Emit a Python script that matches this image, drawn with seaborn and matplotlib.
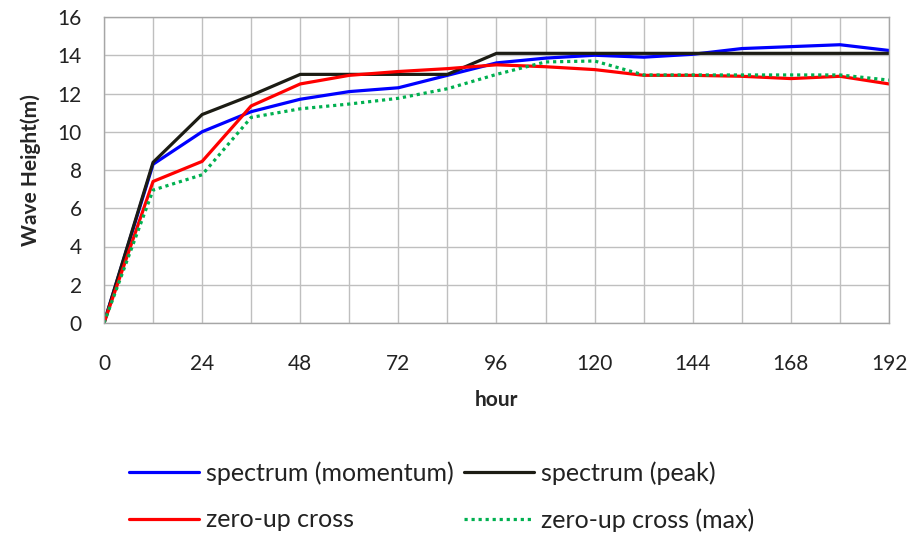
import matplotlib
matplotlib.use("Agg")
import matplotlib.pyplot as plt
import seaborn as sns
import pandas as pd

hours = [0, 12, 24, 36, 48, 60, 72, 84, 96, 108, 120, 132, 144, 156, 168, 180, 192]
momentum = [0.0, 8.3, 10.0, 11.05, 11.7, 12.1, 12.3, 12.95, 13.6, 13.85, 14.0, 13.9, 14.05, 14.35, 14.45, 14.55, 14.25]
peak = [0.0, 8.4, 10.9, 11.9, 13.0, 13.0, 13.0, 13.0, 14.1, 14.1, 14.1, 14.1, 14.1, 14.1, 14.1, 14.1, 14.1]
zero_up = [0.0, 7.4, 8.45, 11.35, 12.5, 12.95, 13.15, 13.3, 13.5, 13.4, 13.25, 12.95, 12.95, 12.9, 12.78, 12.9, 12.5]
zero_up_max = [0.0, 6.95, 7.75, 10.75, 11.2, 11.45, 11.75, 12.25, 13.0, 13.65, 13.7, 12.97, 12.97, 12.97, 12.97, 12.97, 12.7]

series_names = ["spectrum (momentum)", "spectrum (peak)", "zero-up cross", "zero-up cross (max)"]
series_colors = ["#0000FF", "#1C1C14", "#FF0000", "#00B050"]
x_ticks = [0, 24, 48, 72, 96, 120, 144, 168, 192]
y_ticks = [0, 2, 4, 6, 8, 10, 12, 14, 16]

sns.set_style("white")
plt.rcParams["font.family"] = ["Lato", "DejaVu Sans"]

fig = plt.figure(figsize=(9.24, 5.33), dpi=100)
ax = fig.add_axes([104 / 924, 1 - 323 / 533, (889 - 104) / 924, (323 - 17) / 533])

all_series = [momentum, peak, zero_up, zero_up_max]
for name, vals, col in zip(series_names, all_series, series_colors):
    df = pd.DataFrame({"hour": hours, "h": vals})
    ls = (0, (1, 1.2)) if name == "zero-up cross (max)" else "-"
    sns.lineplot(data=df, x="hour", y="h", ax=ax, color=col, linewidth=2.3,
                 linestyle=ls, label=name, legend=False)

ax.set_xlim(0, 192)
ax.set_ylim(0, 16)
ax.set_xticks(x_ticks)
ax.set_yticks(y_ticks)
ax.set_xticks(list(range(0, 193, 12)), minor=True)
ax.grid(True, which="both", color="#BFBFBF", linewidth=1.0)
ax.set_axisbelow(True)
for s in ax.spines.values():
    s.set_color("#A6A6A6")
    s.set_linewidth(1.0)
ax.tick_params(axis="both", which="both", length=0, labelsize=15, colors="#222222")
ax.tick_params(axis="x", pad=22)
ax.tick_params(axis="y", pad=16)
ax.set_xlabel("hour", fontsize=15, fontweight="bold", labelpad=12)
ax.set_ylabel("Wave Height(m)", fontsize=15, fontweight="bold", labelpad=12)

h, l = ax.get_legend_handles_labels()
order = [0, 2, 1, 3]
fig.legend([h[i] for i in order], [l[i] for i in order], loc="upper left",
           bbox_to_anchor=(129 / 924, 1 - 461 / 533), ncol=2,
           frameon=False, fontsize=18, handlelength=2.8, handletextpad=0.28,
           columnspacing=0.4, labelspacing=0.95, borderpad=0, borderaxespad=0,
           labelcolor="#222222")

fig.savefig("out.png", dpi=100)
